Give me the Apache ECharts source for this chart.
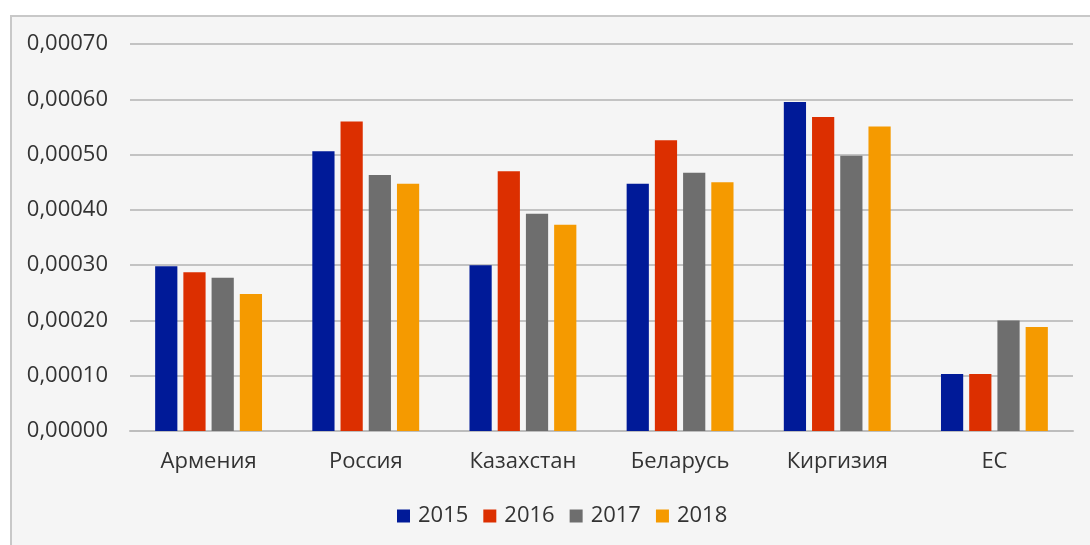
<!DOCTYPE html>
<html>
<head>
    <meta charset="utf-8">
    <title>Chart</title>
    <script src="https://cdn.jsdelivr.net/npm/echarts@6/dist/echarts.min.js"></script>
    <style>
        body { margin: 0; background: #fff; }
        .frame {
            position: absolute; left: 10px; top: 15px;
            width: 1100px; height: 560px;
            border: 2px solid #c8c8c8; background: #f5f5f5;
        }
        #main { position: absolute; left: 0; top: 0; width: 1090px; height: 545px; }
    </style>
</head>
<body>
    <div class="frame"></div>
    <div id="main"></div>

    <script type="text/javascript">
        // категории и значения по годам
        var countries = ['Армения', 'Россия', 'Казахстан', 'Беларусь', 'Киргизия', 'ЕС']
        var years = ['2015', '2016', '2017', '2018']
        var v2015 = [0.000298, 0.000506, 0.000300, 0.000447, 0.000595, 0.000103]
        var v2016 = [0.000287, 0.000560, 0.000470, 0.000526, 0.000568, 0.000103]
        var v2017 = [0.000277, 0.000463, 0.000393, 0.000467, 0.000498, 0.000200]
        var v2018 = [0.000248, 0.000447, 0.000373, 0.000450, 0.000551, 0.000188]
        var colors = ['#001a98', '#dc2f00', '#6e6e6e', '#f59a00']

        var textStyle = { fontFamily: 'Open Sans', fontSize: 22, color: '#333333' }

        var drawChart = function () {
            var myChart = echarts.init(document.getElementById('main'))
            var values = [v2015, v2016, v2017, v2018]
            var series = years.map(function (y, i) {
                return {
                    name: y,
                    type: 'bar',
                    barGap: '27%',
                    barCategoryGap: '32%',
                    itemStyle: { color: colors[i] },
                    data: values[i]
                }
            })
            var option = {
                animation: false,
                backgroundColor: 'transparent',
                color: colors,
                grid: { left: 130, right: 17, top: 44, bottom: 114 },
                legend: {
                    bottom: 13,
                    left: 392,
                    itemWidth: 13,
                    itemHeight: 13,
                    itemGap: 15,
                    icon: 'rect',
                    textStyle: Object.assign({ padding: [0, 0, 0, 3] }, textStyle),
                    data: years
                },
                xAxis: {
                    type: 'category',
                    data: countries,
                    axisTick: { show: false },
                    axisLine: { lineStyle: { color: '#bdbdbd', width: 2 } },
                    axisLabel: Object.assign({ margin: 20 }, textStyle)
                },
                yAxis: {
                    type: 'value',
                    min: 0,
                    max: 0.0007,
                    interval: 0.0001,
                    axisLine: { show: false },
                    axisTick: { show: false },
                    splitLine: { lineStyle: { color: '#c3c3c3', width: 2 } },
                    axisLabel: Object.assign({
                        margin: 22,
                        formatter: function (v) { return v.toFixed(5).replace('.', ',') }
                    }, textStyle)
                },
                series: series
            }
            myChart.setOption(option)
        }

        drawChart()
    </script>
</body>
</html>
